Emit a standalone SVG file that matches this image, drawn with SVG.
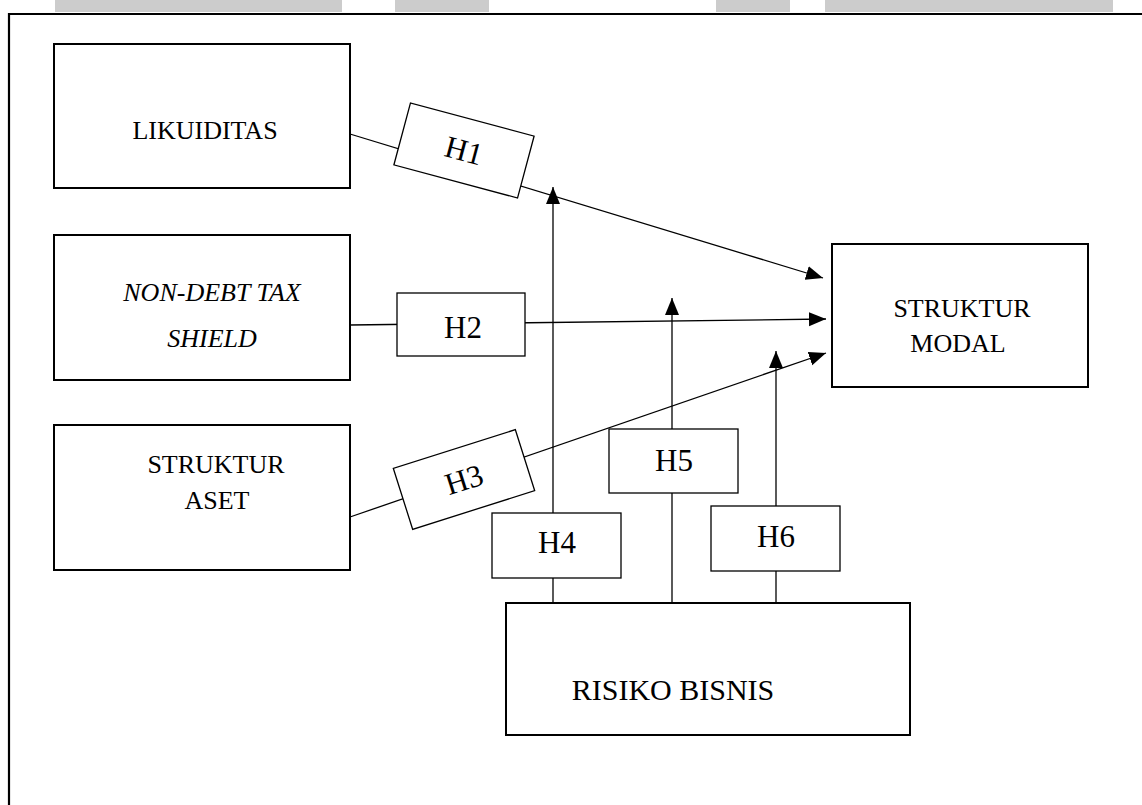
<svg xmlns="http://www.w3.org/2000/svg" width="1142" height="805" viewBox="0 0 1142 805">
<style>
.band{fill:#cccccc}
.node rect{fill:#ffffff;stroke:#000000;stroke-width:2}
.hyp rect{fill:#ffffff;stroke:#000000;stroke-width:1.3}
text{font-family:"Liberation Serif","Times New Roman",serif;font-size:26px;fill:#000000;text-anchor:middle}
.hyp text{font-size:31px}
#risiko text{font-size:30px}
.it{font-style:italic}
#connectors line{stroke:#000000;stroke-width:1.3}
</style>
<defs>
<marker id="arr" markerUnits="userSpaceOnUse" markerWidth="18" markerHeight="16" viewBox="0 0 18 16" refX="17" refY="8" orient="auto">
<path d="M0,1 L17,8 L0,15 Z" fill="#000000"/>
</marker>
</defs>
<rect width="1142" height="805" fill="#ffffff"/>
<rect class="band" x="55" y="0" width="287" height="12"/>
<rect class="band" x="395" y="0" width="94" height="12"/>
<rect class="band" x="716" y="0" width="74" height="12"/>
<rect class="band" x="825" y="0" width="288" height="12"/>
<path d="M9,805 V14 H1142" fill="none" stroke="#000000" stroke-width="2.2"/>
<g id="connectors">
<line x1="350" y1="134" x2="823" y2="278" marker-end="url(#arr)"/>
<line x1="350" y1="325" x2="826" y2="319" marker-end="url(#arr)"/>
<line x1="350" y1="517" x2="826" y2="353" marker-end="url(#arr)"/>
<line x1="553" y1="603" x2="553" y2="187" marker-end="url(#arr)"/>
<line x1="672" y1="603" x2="672" y2="298" marker-end="url(#arr)"/>
<line x1="776" y1="603" x2="776" y2="351" marker-end="url(#arr)"/>
</g>
<g id="likuiditas" class="node"><rect x="54" y="44" width="296" height="144"/><text x="205" y="139">LIKUIDITAS</text></g>
<g id="ndts" class="node"><rect x="54" y="235" width="296" height="145"/><text class="it" x="212" y="301">NON-DEBT TAX</text><text class="it" x="212" y="347">SHIELD</text></g>
<g id="aset" class="node"><rect x="54" y="425" width="296" height="145"/><text x="216" y="473">STRUKTUR</text><text x="217" y="509">ASET</text></g>
<g id="modal" class="node"><rect x="832" y="244" width="256" height="143"/><text x="962" y="317">STRUKTUR</text><text x="958" y="352">MODAL</text></g>
<g id="risiko" class="node"><rect x="506" y="603" width="404" height="132"/><text x="673" y="700">RISIKO BISNIS</text></g>
<g id="h1" class="hyp" transform="translate(464,150.5) rotate(15)"><rect x="-64" y="-32" width="128" height="64"/><text x="0" y="10.5">H1</text></g>
<g id="h2" class="hyp"><rect x="397" y="293" width="128" height="63"/><text x="463" y="338">H2</text></g>
<g id="h3" class="hyp" transform="translate(464,479.5) rotate(-17.6)"><rect x="-64" y="-32" width="128" height="64"/><text x="0" y="10.5">H3</text></g>
<g id="h4" class="hyp"><rect x="492" y="513" width="129" height="65"/><text x="557" y="553">H4</text></g>
<g id="h5" class="hyp"><rect x="609" y="429" width="129" height="64"/><text x="674" y="471">H5</text></g>
<g id="h6" class="hyp"><rect x="711" y="506" width="129" height="65"/><text x="776" y="547">H6</text></g>
</svg>
